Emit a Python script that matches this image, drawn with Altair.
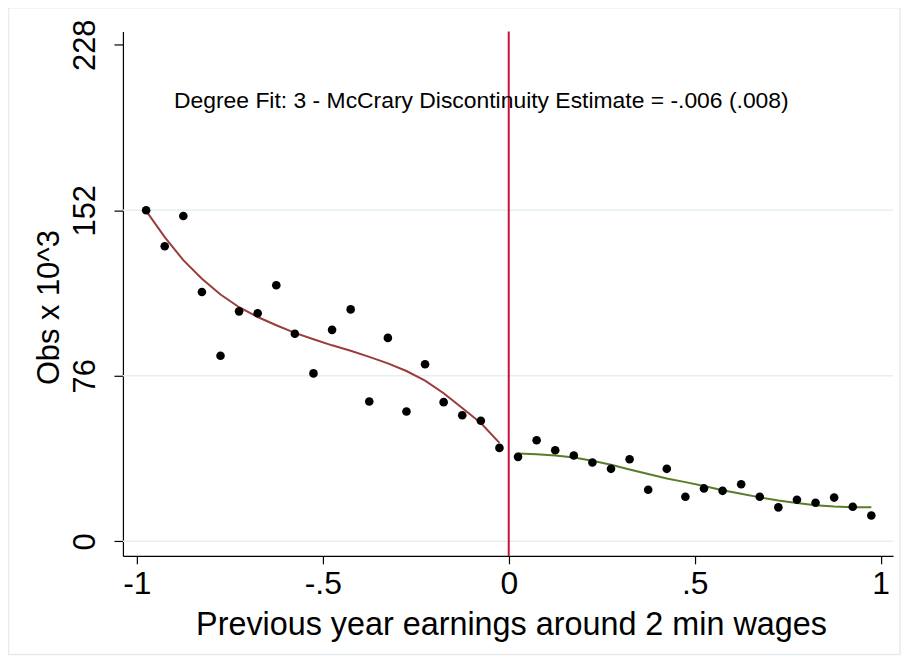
import altair as alt
import pandas as pd

# ---- data ----
left_x = [-0.975, -0.925, -0.875, -0.825, -0.775, -0.725, -0.675, -0.625, -0.575, -0.525,
          -0.475, -0.425, -0.375, -0.325, -0.275, -0.225, -0.175, -0.125, -0.075, -0.025]
left_obs = [152.0, 135.5, 149.4, 114.5, 85.2, 105.6, 104.7, 117.6, 95.3, 77.1,
            97.1, 106.5, 64.2, 93.4, 59.6, 81.3, 63.9, 57.9, 55.4, 42.9]
left_fit = [151.7, 139.7, 129.1, 120.6, 113.3, 107.5, 103.0, 99.2, 95.7, 92.8,
            90.0, 87.5, 84.7, 81.7, 78.2, 73.8, 68.0, 61.2, 54.3, 45.2]

right_x = [0.025, 0.075, 0.125, 0.175, 0.225, 0.275, 0.325, 0.375, 0.425, 0.475,
           0.525, 0.575, 0.625, 0.675, 0.725, 0.775, 0.825, 0.875, 0.925, 0.975]
right_obs = [38.8, 46.4, 41.8, 39.4, 36.2, 33.3, 37.7, 23.7, 33.3, 20.5,
             24.3, 23.2, 26.2, 20.5, 15.6, 19.1, 17.7, 20.1, 15.9, 11.9]
right_fit = [40.3, 40.0, 39.4, 38.5, 37.0, 35.2, 33.0, 30.9, 28.9, 27.2,
             25.4, 23.5, 21.9, 20.2, 18.8, 17.6, 16.6, 16.0, 15.7, 15.7]

x_ticks = [-1, -0.5, 0, 0.5, 1]
x_tick_labels = ["-1", "-.5", "0", ".5", "1"]
y_ticks = [0, 76, 152, 228]
grid_vals = [0, 76, 152]
cutoff = [0]
note = "Degree Fit: 3 - McCrary Discontinuity Estimate = -.006 (.008)"
note_pos = {"x": -0.9, "y": 202}

W, H = 774, 527
XDOM = [-1.0374, 1.0334]
YDOM = [-6.67, 234.07]
FONT = "Liberation Sans"

pts = pd.DataFrame({"x": left_x + right_x, "y": left_obs + right_obs})
fitL = pd.DataFrame({"x": left_x, "y": left_fit})
fitR = pd.DataFrame({"x": right_x, "y": right_fit})
grid = pd.DataFrame({"y": grid_vals})
cut = pd.DataFrame({"x": cutoff})
notedf = pd.DataFrame({"x": [note_pos["x"]], "y": [note_pos["y"]], "t": [note]})

label_expr = " : ".join(
    f"datum.value == {v} ? '{l}'" for v, l in zip(x_ticks[:-1], x_tick_labels[:-1])
) + f" : '{x_tick_labels[-1]}'"

xs = alt.Scale(domain=XDOM, nice=False, zero=False)
ys = alt.Scale(domain=YDOM, nice=False, zero=False)

x_axis = alt.Axis(values=x_ticks, labelExpr=label_expr, grid=False,
                  title="Previous year earnings around 2 min wages",
                  labelFont=FONT, labelFontSize=32, labelColor="black",
                  labelPadding=5, tickSize=8, tickColor="black", tickWidth=1.2,
                  domainColor="black", domainWidth=1.2, labelFlush=False,
                  titleFont=FONT, titleFontSize=32.5, titleFontWeight="normal",
                  titleColor="black", titleBaseline="alphabetic", titleY=79,
                  titleAnchor="middle", titleX=390)
y_axis = alt.Axis(values=y_ticks, grid=False, title="Obs x 10^3",
                  labelFont=FONT, labelFontSize=31, labelColor="black",
                  labelAngle=-90, labelAlign="center", labelBaseline="alphabetic",
                  labelPadding=20, tickSize=9, tickColor="black", tickWidth=1.2,
                  domainColor="black", domainWidth=1.2, labelFlush=False,
                  titleFont=FONT, titleFontSize=31, titleFontWeight="normal",
                  titleColor="black", titleAngle=-90, titleBaseline="alphabetic",
                  titleAlign="center", titleX=-65, titleY=277)

frame = alt.Chart(notedf).mark_rect(fill=None, stroke="#e4ecee", strokeWidth=1.5).encode(
    x=alt.value(-115), x2=alt.value(W + 7), y=alt.value(-24), y2=alt.value(H + 99))

gridlines = alt.Chart(grid).mark_rule(color="#e6eff1", strokeWidth=1.5).encode(
    y=alt.Y("y:Q", scale=ys, axis=y_axis), x=alt.value(0), x2=alt.value(W))

lineL = alt.Chart(fitL).mark_line(color="#9b3c3c", strokeWidth=2).encode(
    x=alt.X("x:Q", scale=xs, axis=x_axis), y=alt.Y("y:Q", scale=ys))
lineR = alt.Chart(fitR).mark_line(color="#5a7d2a", strokeWidth=2).encode(
    x=alt.X("x:Q", scale=xs), y=alt.Y("y:Q", scale=ys))

vline = alt.Chart(cut).mark_rule(color="#c8103f", strokeWidth=2).encode(
    x=alt.X("x:Q", scale=xs), y=alt.value(0), y2=alt.value(H))

points = alt.Chart(pts).mark_circle(color="black", opacity=1, size=75).encode(
    x=alt.X("x:Q", scale=xs), y=alt.Y("y:Q", scale=ys))

text = alt.Chart(notedf).mark_text(align="left", baseline="middle", font=FONT,
                                   fontSize=23, color="black").encode(
    x=alt.X("x:Q", scale=xs), y=alt.Y("y:Q", scale=ys), text="t:N")

chart = alt.layer(frame, gridlines, lineL, lineR, vline, points, text).properties(
    width=W, height=H,
    autosize=alt.AutoSizeParams(type="none"),
    padding={"left": 115.5, "top": 22, "right": 10, "bottom": 102},
    background="white",
).configure_view(strokeWidth=0)

chart.save("out.html", embed_options={"renderer": "svg", "actions": False})
